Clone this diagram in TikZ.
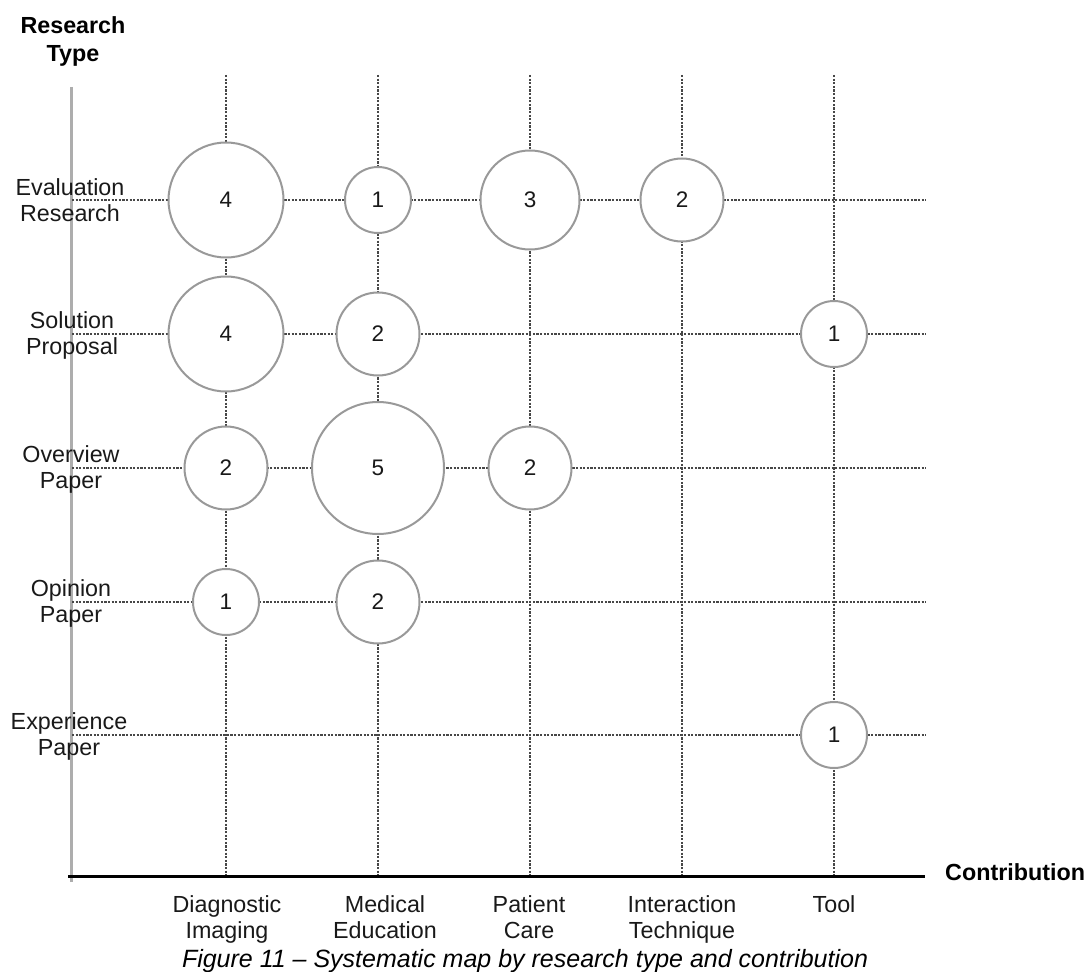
\documentclass[tikz,border=0pt]{standalone}
\usepackage{fontspec}
\setmainfont{Liberation Sans}
\begin{document}
\begin{tikzpicture}[x=1pt,y=-1pt,
  gridline/.style={draw=black!72, line width=1.3pt, dash pattern=on 2.2pt off 1.4pt},
  bub/.style={circle, draw=black!40, line width=2pt, fill=white, inner sep=0pt, text=black!90, font=\fontsize{22.5}{26}\selectfont},
  sa/.style={bub, minimum size=66pt},
  sb/.style={bub, minimum size=83pt},
  sc/.style={bub, minimum size=99pt},
  sd/.style={bub, minimum size=115pt},
  se/.style={bub, minimum size=132pt},
  lbl/.style={align=center, inner sep=0pt, text=black!90, font=\fontsize{23.3}{26}\selectfont},
  ttl/.style={align=center, inner sep=0pt, text=black, font=\bfseries\fontsize{23.3}{28}\selectfont},
  capt/.style={inner sep=0pt, text=black, font=\itshape\fontsize{25}{30}\selectfont},
  yaxis/.style={draw=black!32, line width=3pt},
  xaxis/.style={draw=black, line width=3pt}]
\useasboundingbox (0,0) rectangle (1086,971);

% axes
\coordinate (yt) at (71,87);
\coordinate (yb) at (71,882);
\coordinate (xl) at (68,876);
\coordinate (xr) at (925,876);
\draw[yaxis] (yt) -- (yb);

% grid coordinates
\coordinate (ct1) at (226,75);  \coordinate (cb1) at (226,876);
\coordinate (ct2) at (378,75);  \coordinate (cb2) at (378,876);
\coordinate (ct3) at (530,75);  \coordinate (cb3) at (530,876);
\coordinate (ct4) at (682,75);  \coordinate (cb4) at (682,876);
\coordinate (ct5) at (834,75);  \coordinate (cb5) at (834,876);
\coordinate (rl1) at (72,200);  \coordinate (rr1) at (926,200);
\coordinate (rl2) at (72,334);  \coordinate (rr2) at (926,334);
\coordinate (rl3) at (72,468);  \coordinate (rr3) at (926,468);
\coordinate (rl4) at (72,602);  \coordinate (rr4) at (926,602);
\coordinate (rl5) at (72,735);  \coordinate (rr5) at (926,735);

\foreach \i in {1,...,5} {
  \draw[gridline] (ct\i) -- (cb\i);
  \draw[gridline] (rl\i) -- (rr\i);
}
\draw[xaxis] (xl) -- (xr);

% bubbles
\node[sd] (b11) at (226,200) {4};
\node[sa] (b12) at (378,200) {1};
\node[sc] (b13) at (530,200) {3};
\node[sb] (b14) at (682,200) {2};
\node[sd] (b21) at (226,334) {4};
\node[sb] (b22) at (378,334) {2};
\node[sa] (b25) at (834,334) {1};
\node[sb] (b31) at (226,468) {2};
\node[se] (b32) at (378,468) {5};
\node[sb] (b33) at (530,468) {2};
\node[sa] (b41) at (226,602) {1};
\node[sb] (b42) at (378,602) {2};
\node[sa] (b55) at (834,735) {1};

% row labels (base = baseline of last line)
\node[lbl, anchor=base] (r1) at (70,221) {Evaluation\\Research};
\node[lbl, anchor=base] (r2) at (72,354) {Solution\\Proposal};
\node[lbl, anchor=base] (r3) at (71,488) {Overview\\Paper};
\node[lbl, anchor=base] (r4) at (71,622) {Opinion\\Paper};
\node[lbl, anchor=base] (r5) at (69,755) {Experience\\Paper};

% column labels
\node[lbl, anchor=base] (k1) at (227,938) {Diagnostic\\Imaging};
\node[lbl, anchor=base] (k2) at (385,938) {Medical\\Education};
\node[lbl, anchor=base] (k3) at (529,938) {Patient\\Care};
\node[lbl, anchor=base] (k4) at (682,938) {Interaction\\Technique};
\node[lbl, anchor=base] (k5) at (834,912) {Tool};

% axis titles
\node[ttl, anchor=base] (ytitle) at (73,62) {Research\\Type};
\node[ttl, anchor=base west] (xtitle) at (945,880) {Contribution};

% caption
\node[capt, anchor=base] (caption) at (525,967) {Figure 11 -- Systematic map by research type and contribution};
\end{tikzpicture}
\end{document}
